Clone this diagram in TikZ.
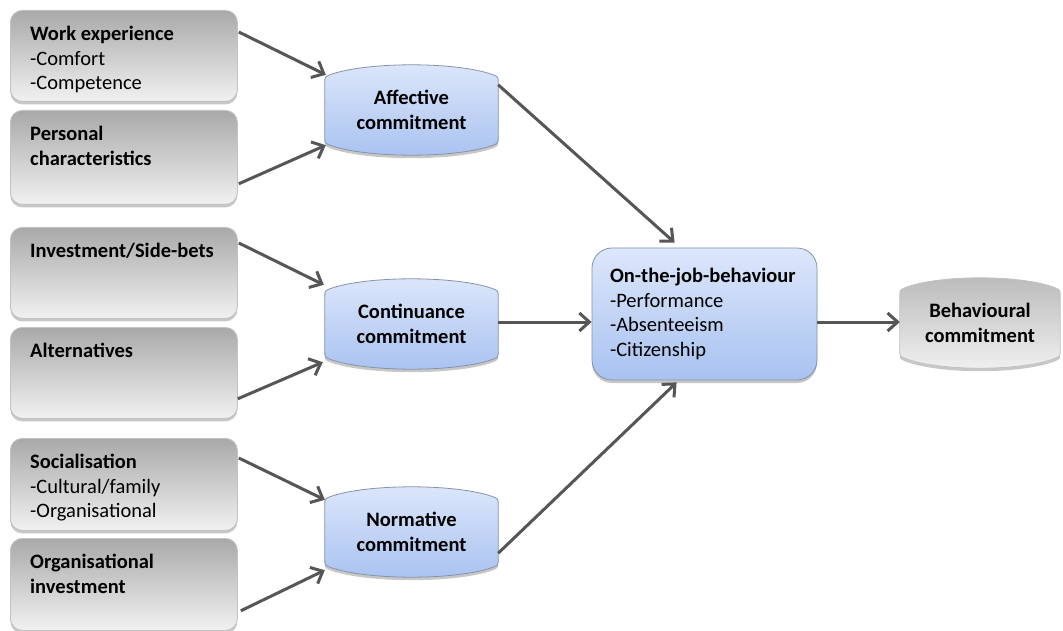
\documentclass[tikz,border=0pt]{standalone}
\usepackage{fontspec}
\setmainfont{Carlito}
\usetikzlibrary{arrows.meta,calc,shadows,backgrounds}

\definecolor{arrowgray}{HTML}{565656}
\definecolor{boxtop}{HTML}{A9A9A9}
\definecolor{boxbot}{HTML}{F1F1F1}
\definecolor{boxline}{HTML}{C2C2C2}
\definecolor{bluetop}{HTML}{DDE7FB}
\definecolor{bluebot}{HTML}{A8C2F0}
\definecolor{blueline}{HTML}{8593AA}

\tikzset{
  every node/.style={font=\fontsize{20.5}{24.5}\selectfont, inner sep=0pt},
  softshadow/.style={drop shadow={shadow xshift=0pt, shadow yshift=-3pt, opacity=0.22, fill=black}},
  inputbox/.style={rounded corners=12pt, draw=boxline, line width=0.8pt,
    top color=boxtop, bottom color=boxbot, softshadow,
    minimum width=227pt, anchor=north west},
  inputtext/.style={anchor=north west, align=left},
  bluefill/.style={draw=blueline, line width=0.8pt, top color=bluetop, bottom color=bluebot, softshadow},
  grayfill/.style={draw=boxline, line width=0.8pt, top color=boxtop!80!white, bottom color=boxbot, softshadow},
  barrelnode/.style={minimum width=173pt, minimum height=90pt, align=center, font=\fontsize{20.5}{24.5}\selectfont\bfseries},
  jobbox/.style={rounded corners=20pt, bluefill, minimum width=225pt, minimum height=132pt,
    text width=189pt, inner xsep=18pt, align=left},
  conn/.style={draw=arrowgray, line width=3pt, -{Straight Barb[length=10pt,width=18pt]}},
}

% barrel outline (flat sides, bulging top and bottom) around a named node
\newcommand\barrelpath[2]{%
  \path[#2] let \p1=(#1.north west), \p2=(#1.south east) in
    (\x1,{\y1-18pt}) -- (\x1,{\y2+18pt})
    .. controls (\x1,{\y2+12pt}) .. ({\x1+6pt},{\y2+9.6pt})
    .. controls ({\x1+0.25*(\x2-\x1)},{\y2-3.2pt}) and ({\x2-0.25*(\x2-\x1)},{\y2-3.2pt}) .. ({\x2-6pt},{\y2+9.6pt})
    .. controls (\x2,{\y2+12pt}) .. (\x2,{\y2+18pt})
    -- (\x2,{\y1-18pt})
    .. controls (\x2,{\y1-12pt}) .. ({\x2-6pt},{\y1-9.6pt})
    .. controls ({\x2-0.25*(\x2-\x1)},{\y1+3.2pt}) and ({\x1+0.25*(\x2-\x1)},{\y1+3.2pt}) .. ({\x1+6pt},{\y1-9.6pt})
    .. controls (\x1,{\y1-12pt}) .. cycle;}

\begin{document}
\begin{tikzpicture}[x=1pt,y=1pt]
\useasboundingbox (0,0) rectangle (1063,-631);

% antecedent boxes
\node[inputbox, minimum height=91pt] (w1) at (10,-10) {};
\node[inputbox, minimum height=94pt] (w2) at (10,-110) {};
\node[inputbox, minimum height=91pt] (w3) at (10,-227) {};
\node[inputbox, minimum height=91pt] (w4) at (10,-327) {};
\node[inputbox, minimum height=92pt] (w5) at (10,-438) {};
\node[inputbox, minimum height=92pt] (w6) at (10,-538) {};

\node[inputtext] (t1) at ($(w1.north west)+(20,-16)$) {\textbf{Work experience}\\-Comfort\\-Competence};
\node[inputtext] (t2) at ($(w2.north west)+(20,-16)$) {\textbf{Personal}\\\textbf{characteristics}};
\node[inputtext] (t3) at ($(w3.north west)+(20,-16)$) {\textbf{Investment/Side-bets}};
\node[inputtext] (t4) at ($(w4.north west)+(20,-16)$) {\textbf{Alternatives}};
\node[inputtext] (t5) at ($(w5.north west)+(20,-16)$) {\textbf{Socialisation}\\-Cultural/family\\-Organisational};
\node[inputtext] (t6) at ($(w6.north west)+(20,-16)$) {\textbf{Organisational}\\\textbf{investment}};

% commitment components
\node[barrelnode] (aff) at (411.5,-110) {Affective\\commitment};
\node[barrelnode] (cont) at (411.5,-324) {Continuance\\commitment};
\node[barrelnode] (norm) at (411.5,-532) {Normative\\commitment};
\node[barrelnode, minimum width=160pt] (beh) at (980,-323) {Behavioural\\commitment};

\begin{scope}[on background layer]
  \fill[white] (0,0) rectangle (1063,-631);
  \barrelpath{aff}{bluefill}
  \barrelpath{cont}{bluefill}
  \barrelpath{norm}{bluefill}
  \barrelpath{beh}{grayfill}
\end{scope}

% outcome box
\node[jobbox] (job) at (704.5,-314) {\textbf{On-the-job-behaviour}\\-Performance\\-Absenteeism\\-Citizenship};

% connectors
\draw[conn] ($(w1.north east)+(1,-22)$) -- ($(aff.north west)+(1,-10)$);
\draw[conn] ($(w2.south east)+(1,21)$) -- ($(aff.south west)+(1,10)$);
\draw[conn] ($(w3.north east)+(1,-16)$) -- ($(cont.north west)+(-1,-6)$);
\draw[conn] ($(w4.south east)+(0,20)$) -- ($(cont.south west)+(-2,7)$);
\draw[conn] ($(w5.north east)+(1,-20)$) -- ($(norm.north west)+(0,-13)$);
\draw[conn] ($(w6.south east)+(3,20)$) -- ($(norm.south west)+(0,7)$);
\draw[conn] ($(aff.north east)+(0,-20)$) -- ($(job.north west)+(83,5)$);
\draw[conn] ($(cont.east)+(0,2)$) coordinate (c8) -- (c8 -| job.west);
\draw[conn] ($(norm.south east)+(0,24)$) -- ($(job.south west)+(85,-2)$);
\draw[conn] ($(job.east)+(0,-8)$) coordinate (c10) -- (c10 -| beh.west);
\end{tikzpicture}
\end{document}
